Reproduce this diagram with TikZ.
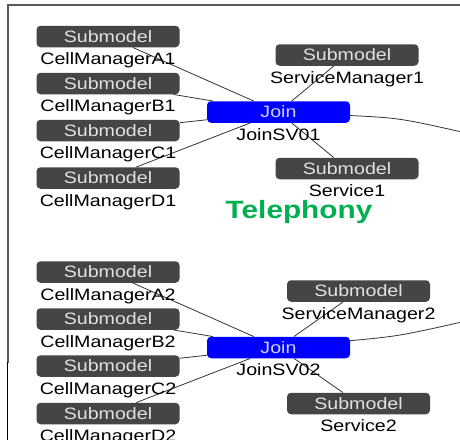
\documentclass[tikz,border=0pt]{standalone}
\usepackage{fontspec}
\setmainfont{Liberation Sans}
\usetikzlibrary{positioning,backgrounds}
\definecolor{boxgray}{HTML}{454545}
\definecolor{telgreen}{HTML}{00B050}
\newcommand{\stretchx}[1]{\scalebox{1.19}[1]{#1}}

\begin{document}
\begin{tikzpicture}[x=1pt, y=-1pt, every node/.style={font=\fontsize{16.5}{18}\selectfont}]
\tikzstyle{subbox}=[fill=boxgray, rounded corners=4pt, minimum width=143pt, minimum height=21.5pt, inner sep=0pt, text=white!88!black]
\tikzstyle{joinbox}=[subbox, fill=blue, text=white!82!blue]
\tikzstyle{lbl}=[inner sep=0pt]
\tikzstyle{link}=[draw=black!80, line width=0.8pt]
\useasboundingbox (0,0) rectangle (460,439);
\draw[black!65, line width=1.2pt] (470,5) -- (8,5) -- (8,363);
\draw[black, line width=0.8pt] (7,362) -- (7,445);
% first group
\node[subbox] (a1) at (108,36.5) {\stretchx{Submodel}};
\node[subbox] (b1) at (108,83.5) {\stretchx{Submodel}};
\node[subbox] (c1) at (108,130.5) {\stretchx{Submodel}};
\node[subbox] (d1) at (108,178) {\stretchx{Submodel}};
\node[joinbox] (j1) at (278.5,112) {\stretchx{Join}};
\node[subbox] (sm1) at (347,55) {\stretchx{Submodel}};
\node[subbox] (s1) at (347,168.5) {\stretchx{Submodel}};
\node[lbl, below=5pt of a1] {\stretchx{CellManagerA1}};
\node[lbl, below=5pt of b1] {\stretchx{CellManagerB1}};
\node[lbl, below=5pt of c1] {\stretchx{CellManagerC1}};
\node[lbl, below=5pt of d1] {\stretchx{CellManagerD1}};
\node[lbl, below=5pt of j1] {\stretchx{JoinSV01}};
\node[lbl, below=5pt of sm1] {\stretchx{ServiceManager1}};
\node[lbl, below=5pt of s1] {\stretchx{Service1}};
\coordinate (out1) at (475,135);
% second group
\node[subbox] (a2) at (108,272) {\stretchx{Submodel}};
\node[subbox] (b2) at (108,319) {\stretchx{Submodel}};
\node[subbox] (c2) at (108,366) {\stretchx{Submodel}};
\node[subbox] (d2) at (108,413.5) {\stretchx{Submodel}};
\node[joinbox] (j2) at (278.5,347.5) {\stretchx{Join}};
\node[subbox] (sm2) at (358.5,291) {\stretchx{Submodel}};
\node[subbox] (s2) at (358.5,403.5) {\stretchx{Submodel}};
\node[lbl, below=5pt of a2] {\stretchx{CellManagerA2}};
\node[lbl, below=5pt of b2] {\stretchx{CellManagerB2}};
\node[lbl, below=5pt of c2] {\stretchx{CellManagerC2}};
\node[lbl, below=5pt of d2] {\stretchx{CellManagerD2}};
\node[lbl, below=5pt of j2] {\stretchx{JoinSV02}};
\node[lbl, below=5pt of sm2] {\stretchx{ServiceManager2}};
\node[lbl, below=5pt of s2] {\stretchx{Service2}};
\coordinate (out2) at (475,319);
\node[lbl, anchor=base, text=telgreen, font=\fontsize{25}{28}\selectfont\bfseries] (tel) at (299,218) {\stretchx{Telephony}};
\begin{scope}[on background layer]
\draw[link] (a1) -- (j1);
\draw[link] (b1) -- (j1);
\draw[link] (c1) -- (j1);
\draw[link] (d1) -- (j1);
\draw[link] (sm1) -- (j1);
\draw[link] (s1) -- (j1);
\draw[link] (j1) .. controls (400,118) .. (out1);
\draw[link] (a2) -- (j2);
\draw[link] (b2) -- (j2);
\draw[link] (c2) -- (j2);
\draw[link] (d2) -- (j2);
\draw[link] (sm2) -- (j2);
\draw[link] (s2) -- (j2);
\draw[link] (j2) .. controls (400,336) .. (out2);
\end{scope}
\end{tikzpicture}
\end{document}
